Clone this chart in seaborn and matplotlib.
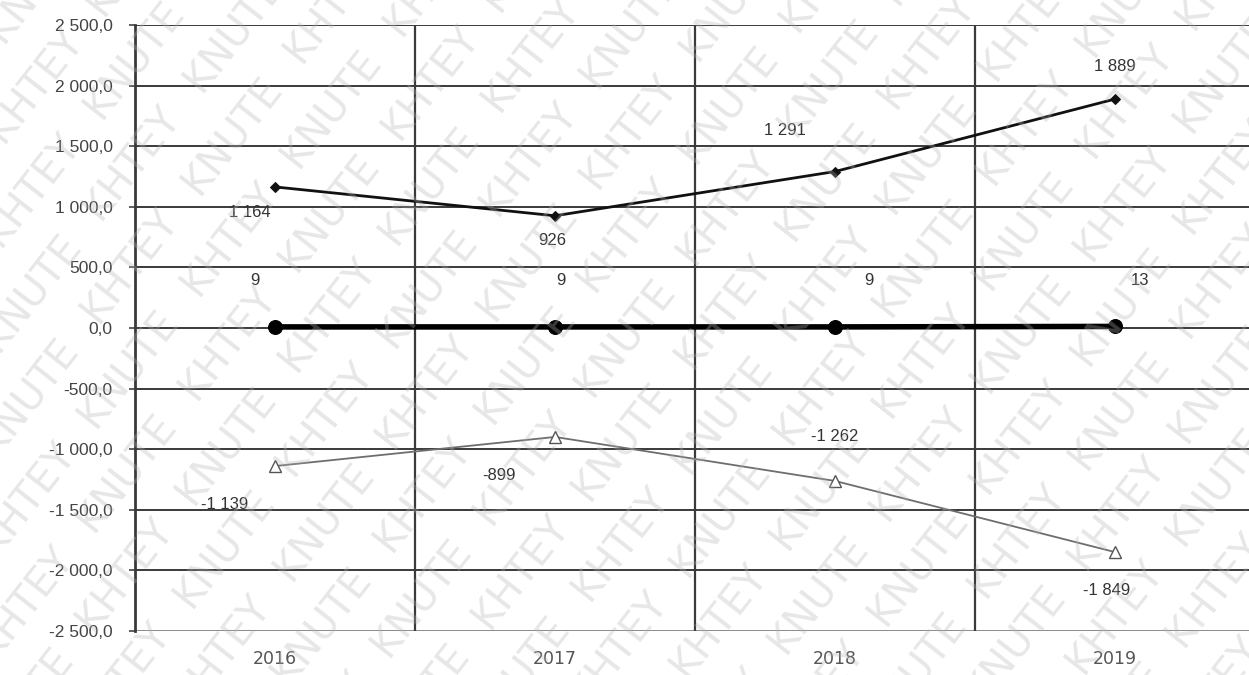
import matplotlib
matplotlib.use("Agg")
import matplotlib.pyplot as plt
import seaborn as sns
import pandas as pd
import numpy as np

years = ["2016", "2017", "2018", "2019"]
series_top = [1164, 926, 1291, 1889]
series_mid = [9, 9, 9, 13]
series_low = [-1139, -899, -1262, -1849]

sns.set_theme(style="white")
plt.rcParams["font.family"] = ["Liberation Sans", "DejaVu Sans"]

W, H = 1249, 675
fig = plt.figure(figsize=(W / 100, H / 100), dpi=100)
ax = fig.add_axes([135 / W, 1 - 631 / H, (1255 - 135) / W, (631 - 25) / H])

df = pd.DataFrame({
    "pos": np.arange(len(years)),
    "top": series_top,
    "mid": series_mid,
    "low": series_low,
})

sns.lineplot(data=df, x="pos", y="top", ax=ax, color="#111111", lw=2.0,
             marker="D", markersize=5, markeredgecolor="#111111", zorder=5)
sns.lineplot(data=df, x="pos", y="mid", ax=ax, color="#000000", lw=4.0,
             marker="o", markersize=10, markeredgecolor="#000000", zorder=5)
sns.lineplot(data=df, x="pos", y="low", ax=ax, color="#6e6e6e", lw=1.3,
             marker="^", markersize=8, markerfacecolor="white",
             markeredgecolor="#555555", markeredgewidth=1.0, zorder=5)

ax.set_xlim(-0.5, 3.5)
ax.set_ylim(-2500, 2500)

# horizontal grid + category separators
yt = np.arange(-2500, 2501, 500)
for val in yt:
    ax.axhline(val, color="#3a3a3a" if val > -2500 else "#8a8a8a", lw=1.4, zorder=1)
for b in [0.5, 1.5, 2.5]:
    ax.axvline(b, color="#3a3a3a", lw=1.6, zorder=1)

def fmt(v):
    s = f"{abs(v):,.1f}".replace(",", " ").replace(".", ",")
    return ("-" if v < 0 else "") + s

ax.set_yticks(yt)
ax.set_yticklabels([fmt(v) for v in yt])
ax.set_xticks(df["pos"])
ax.set_xticklabels(years, family="DejaVu Sans")
ax.tick_params(axis="y", length=4, width=1.2, color="#444444", pad=12,
               labelsize=12.5, labelcolor="#444444", left=True)
ax.tick_params(axis="x", length=0, pad=14, labelsize=12.5, labelcolor="#555555")
ax.set_xlabel("")
ax.set_ylabel("")

for s in ["top", "right", "bottom"]:
    ax.spines[s].set_visible(False)
ax.spines["left"].set_color("#3a3a3a")
ax.spines["left"].set_linewidth(2.0)

def lab(v):
    s = f"{abs(v):,d}".replace(",", " ")
    return ("-" if v < 0 else "") + s

# value labels: (dx in category units, dy in data units)
off_top = [(-0.09, -210), (-0.01, -200), (-0.18, 340), (0.0, 270)]
off_mid = [(-0.07, 380), (0.02, 380), (0.12, 380), (0.09, 380)]
off_low = [(-0.18, -320), (-0.2, -320), (0.0, 370), (-0.03, -320)]
lbl = dict(fontsize=12, color="#333333", ha="center", va="center", zorder=6)
for i in range(len(years)):
    ax.text(i + off_top[i][0], series_top[i] + off_top[i][1], lab(series_top[i]), **lbl)
    ax.text(i + off_mid[i][0], series_mid[i] + off_mid[i][1], lab(series_mid[i]), **lbl)
    ax.text(i + off_low[i][0], series_low[i] + off_low[i][1], lab(series_low[i]), **lbl)

# diagonal watermark tiled over the whole figure (pixel lattice)
words = ["KNUTE", "KHTEY"]
ang = np.deg2rad(52)
u = np.array([np.cos(ang), np.sin(ang)])
v = np.array([-np.sin(ang), np.cos(ang)])
for j in range(-16, 18):
    for i in range(-9, 11):
        p = np.array([W / 2, H / 2]) + i * 165 * u + j * 62 * v + (j % 2) * 82 * u
        if -90 < p[0] < W + 90 and -90 < p[1] < H + 90:
            fig.text(p[0] / W, p[1] / H, words[(i + j) % 2], fontsize=29,
                     color="#b4b4b4", alpha=0.32, rotation=52,
                     ha="center", va="center", family="DejaVu Sans",
                     zorder=10)

fig.savefig("out.png", dpi=100, facecolor="white")
